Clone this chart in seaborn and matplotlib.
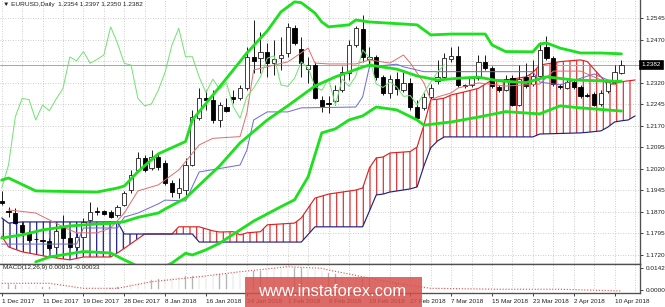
import numpy as np
import matplotlib
matplotlib.use("Agg")
import matplotlib.pyplot as plt
import matplotlib.transforms as mtransforms
from matplotlib.patches import Rectangle
from matplotlib.ticker import MultipleLocator
import seaborn as sns

# ---------------- data ----------------
date_labels = ['1 Dec 2017', '11 Dec 2017', '19 Dec 2017', '28 Dec 2017', '8 Jan 2018',
               '16 Jan 2018', '24 Jan 2018', '1 Feb 2018', '9 Feb 2018', '19 Feb 2018',
               '27 Feb 2018', '7 Mar 2018', '15 Mar 2018', '23 Mar 2018', '2 Apr 2018',
               '10 Apr 2018']
date_label_bars = [0, 6, 12, 18, 24, 30, 36, 42, 48, 54, 60, 66, 72, 78, 84, 90]
price_ticks = [1.2545, 1.2470, 1.2395, 1.2320, 1.2245, 1.2170, 1.2095, 1.2020,
               1.1945, 1.1870, 1.1795, 1.1720]
price_tick_labels = ['1.2545', '1.2470', '', '1.2320', '1.2245', '1.2170', '1.2095',
                     '1.2020', '1.1945', '1.1870', '1.1795', '1.1720']

opens = [1.1908, 1.1872, 1.1866, 1.1825, 1.1797, 1.1776, 1.1771, 1.1770, 1.1748, 1.1818,
         1.1779, 1.1749, 1.1784, 1.1842, 1.1872, 1.1874, 1.1871, 1.1859, 1.1894, 1.1946,
         1.2016, 1.2058, 1.2023, 1.2062, 1.2040, 1.1970, 1.1937, 1.1946, 1.2033, 1.2196,
         1.2265, 1.2260, 1.2190, 1.2236, 1.2270, 1.2265, 1.2300, 1.2410, 1.2405, 1.2428,
         1.2387, 1.2405, 1.2422, 1.2509, 1.2436, 1.2366, 1.2381, 1.2260, 1.2249, 1.2256,
         1.2294, 1.2353, 1.2451, 1.2506, 1.2401, 1.2408, 1.2339, 1.2285, 1.2332, 1.2294,
         1.2320, 1.2236, 1.2230, 1.2270, 1.2326, 1.2339, 1.2401, 1.2413, 1.2310, 1.2312,
         1.2336, 1.2392, 1.2371, 1.2305, 1.2294, 1.2336, 1.2242, 1.2340, 1.2315, 1.2343,
         1.2444, 1.2406, 1.2308, 1.2301, 1.2322, 1.2305, 1.2277, 1.2280, 1.2246, 1.2291,
         1.2322, 1.2354]
highs = [1.1943, 1.1887, 1.1884, 1.1835, 1.1807, 1.1783, 1.1776, 1.1779, 1.1828, 1.1859,
         1.1800, 1.1797, 1.1849, 1.1906, 1.1888, 1.1877, 1.1877, 1.1894, 1.1943, 1.2016,
         1.2080, 1.2068, 1.2085, 1.2075, 1.2051, 1.1981, 1.1988, 1.2058, 1.2225, 1.2300,
         1.2294, 1.2294, 1.2254, 1.2266, 1.2294, 1.2312, 1.2445, 1.2538, 1.2497, 1.2457,
         1.2468, 1.2480, 1.2526, 1.2520, 1.2480, 1.2410, 1.2392, 1.2273, 1.2273, 1.2312,
         1.2378, 1.2468, 1.2517, 1.2555, 1.2444, 1.2416, 1.2346, 1.2346, 1.2358, 1.2358,
         1.2336, 1.2260, 1.2284, 1.2315, 1.2399, 1.2423, 1.2445, 1.2447, 1.2315, 1.2343,
         1.2416, 1.2416, 1.2378, 1.2312, 1.2346, 1.2346, 1.2381, 1.2388, 1.2399, 1.2461,
         1.2482, 1.2413, 1.2315, 1.2329, 1.2329, 1.2312, 1.2284, 1.2287, 1.2294, 1.2329,
         1.2381, 1.2397]
lows = [1.1894, 1.1852, 1.1828, 1.1793, 1.1765, 1.1769, 1.1765, 1.1738, 1.1741, 1.1772,
        1.1744, 1.1738, 1.1783, 1.1838, 1.1859, 1.1859, 1.1849, 1.1853, 1.1891, 1.1936,
        1.2010, 1.2009, 1.2016, 1.2016, 1.1964, 1.1923, 1.1918, 1.1929, 1.2030, 1.2190,
        1.2225, 1.2179, 1.2167, 1.2218, 1.2249, 1.2260, 1.2294, 1.2353, 1.2353, 1.2341,
        1.2346, 1.2364, 1.2410, 1.2451, 1.2341, 1.2318, 1.2263, 1.2218, 1.2214, 1.2242,
        1.2287, 1.2329, 1.2444, 1.2393, 1.2374, 1.2329, 1.2277, 1.2266, 1.2277, 1.2287,
        1.2225, 1.2190, 1.2225, 1.2263, 1.2315, 1.2333, 1.2393, 1.2305, 1.2301, 1.2305,
        1.2329, 1.2364, 1.2301, 1.2287, 1.2291, 1.2239, 1.2239, 1.2301, 1.2308, 1.2336,
        1.2399, 1.2308, 1.2298, 1.2298, 1.2298, 1.2266, 1.2270, 1.2239, 1.2239, 1.2284,
        1.2315, 1.2350]
closes = [1.1901, 1.1871, 1.1831, 1.1800, 1.1772, 1.1774, 1.1769, 1.1744, 1.1804, 1.1779,
          1.1749, 1.1783, 1.1836, 1.1871, 1.1870, 1.1863, 1.1853, 1.1888, 1.1936, 1.1998,
          1.2058, 1.2016, 1.2062, 1.2027, 1.1971, 1.1940, 1.1953, 1.2033, 1.2201, 1.2265,
          1.2261, 1.2190, 1.2242, 1.2222, 1.2263, 1.2300, 1.2409, 1.2396, 1.2428, 1.2387,
          1.2401, 1.2416, 1.2514, 1.2457, 1.2387, 1.2381, 1.2265, 1.2239, 1.2246, 1.2294,
          1.2357, 1.2451, 1.2509, 1.2410, 1.2410, 1.2339, 1.2285, 1.2332, 1.2297, 1.2320,
          1.2236, 1.2196, 1.2271, 1.2301, 1.2340, 1.2405, 1.2413, 1.2312, 1.2307, 1.2335,
          1.2392, 1.2371, 1.2307, 1.2293, 1.2334, 1.2242, 1.2333, 1.2307, 1.2343, 1.2434,
          1.2406, 1.2315, 1.2303, 1.2322, 1.2305, 1.2272, 1.2275, 1.2242, 1.2284, 1.2322,
          1.2357, 1.2382]

bb_upper_bars = [0, 1, 5, 14, 17, 18, 20, 23, 27, 28, 32, 36, 39, 41, 43, 44, 46, 47, 48,
                 51, 52, 54, 61, 63, 66, 71, 72, 74, 78, 79, 80, 82, 85, 88, 91]
bb_upper = [1.1981, 1.1988, 1.1943, 1.1939, 1.1953, 1.1960, 1.2010, 1.2072, 1.2115, 1.2190,
            1.2305, 1.2423, 1.2500, 1.2566, 1.2601, 1.2598, 1.2562, 1.2531, 1.2514, 1.2521,
            1.2538, 1.2531, 1.2521, 1.2486, 1.2489, 1.2489, 1.2451, 1.2428, 1.2427, 1.2454,
            1.2458, 1.2440, 1.2423, 1.2423, 1.2420]
bb_mid_bars = [0, 3, 6, 10, 14, 16, 18, 20, 23, 24, 27, 32, 35, 39, 42, 46, 49, 53, 54, 58,
               61, 64, 67, 70, 73, 77, 80, 84, 91]
bb_mid = [1.1779, 1.1790, 1.1807, 1.1821, 1.1828, 1.1830, 1.1836, 1.1851, 1.1866, 1.1880,
          1.1918, 1.2030, 1.2110, 1.2190, 1.2239, 1.2308, 1.2340, 1.2374, 1.2381, 1.2367,
          1.2343, 1.2329, 1.2335, 1.2339, 1.2326, 1.2320, 1.2340, 1.2329, 1.2324]
bb_lower_bars = [5, 7, 12, 16, 18, 19, 20, 24, 25, 27, 28, 30, 32, 37, 41, 43, 45, 47, 49,
                 51, 53, 55, 58, 61, 62, 66, 70, 74, 79, 82, 85, 91]
bb_lower = [1.1696, 1.1713, 1.1732, 1.1727, 1.1703, 1.1692, 1.1680, 1.1680, 1.1692, 1.1726,
            1.1720, 1.1738, 1.1761, 1.1838, 1.1888, 1.1912, 1.1992, 1.2145, 1.2159, 1.2190,
            1.2204, 1.2235, 1.2225, 1.2190, 1.2172, 1.2183, 1.2200, 1.2219, 1.2211, 1.2239,
            1.2232, 1.2221]

tenkan_bars = [1, 5, 9, 11, 14, 16, 18, 20, 23, 26, 29, 31, 35, 36, 37, 40, 42, 45, 46, 48,
               52, 54, 57, 59, 60, 62, 63, 64, 66, 67, 70, 74, 79, 81, 85, 88, 90, 91]
tenkan = [1.1877, 1.1866, 1.1818, 1.1797, 1.1797, 1.1814, 1.1866, 1.1943, 1.1964, 1.2016,
          1.2103, 1.2126, 1.2132, 1.2214, 1.2364, 1.2381, 1.2392, 1.2440, 1.2388, 1.2385,
          1.2385, 1.2399, 1.2388, 1.2416, 1.2388, 1.2319, 1.2260, 1.2270, 1.2284, 1.2301,
          1.2319, 1.2308, 1.2315, 1.2360, 1.2360, 1.2329, 1.2312, 1.2329]
kijun_bars = [0, 11, 12, 17, 18, 20, 23, 24, 27, 29, 35, 36, 37, 39, 42, 44, 52, 53, 54, 58,
              59, 62, 78, 79, 82, 87, 89, 91]
kijun = [1.1758, 1.1758, 1.1814, 1.1814, 1.1852, 1.1866, 1.1898, 1.1911, 1.1908, 1.2009,
         1.2033, 1.2085, 1.2190, 1.2218, 1.2218, 1.2232, 1.2235, 1.2270, 1.2375, 1.2384,
         1.2375, 1.2358, 1.2358, 1.2322, 1.2312, 1.2350, 1.2329, 1.2324]

cloud_bars = [0, 1, 3, 7, 10, 12, 16, 17, 18, 21, 25, 26, 28, 29, 31, 32, 34, 35, 36, 38,
              39, 43, 44, 46, 48, 52, 53, 54, 55, 56, 57, 60, 61, 62, 63, 64, 65, 66, 68, 70,
              72, 74, 77, 78, 79, 82, 85, 86, 88, 89, 90, 91, 92, 93]
senkou_a = [1.1786, 1.1748, 1.1731, 1.1713, 1.1703, 1.1713, 1.1713, 1.1727, 1.1743, 1.1793,
            1.1793, 1.1818, 1.1818, 1.1818, 1.1804, 1.1800, 1.1801, 1.1790, 1.1797, 1.1801,
            1.1825, 1.1831, 1.1849, 1.1918, 1.1932, 1.1946, 1.1953, 1.2023, 1.2058, 1.2061,
            1.2075, 1.2080, 1.2096, 1.2172, 1.2260, 1.2262, 1.2266, 1.2277, 1.2288, 1.2300,
            1.2329, 1.2329, 1.2340, 1.2355, 1.2381, 1.2393, 1.2399, 1.2393, 1.2340, 1.2312,
            1.2318, 1.2323, 1.2326, 1.2329]
senkou_b = [1.1849, 1.1831, 1.1835, 1.1835, 1.1835, 1.1835, 1.1835, 1.1835, 1.1793, 1.1793,
            1.1793, 1.1793, 1.1793, 1.1765, 1.1765, 1.1765, 1.1765, 1.1765, 1.1765, 1.1765,
            1.1765, 1.1765, 1.1765, 1.1818, 1.1818, 1.1818, 1.1818, 1.1873, 1.1929, 1.1932,
            1.1939, 1.1950, 1.1957, 1.2030, 1.2093, 1.2117, 1.2131, 1.2131, 1.2131, 1.2131,
            1.2131, 1.2131, 1.2131, 1.2131, 1.2141, 1.2143, 1.2145, 1.2147, 1.2152, 1.2165,
            1.2183, 1.2187, 1.2190, 1.2204]

macd_main = [0.0046, 0.0045, 0.0043, 0.0040, 0.0036, 0.0033, 0.0030, 0.0026, 0.0022, 0.0018,
             0.0016, 0.0014, 0.0012, 0.0013, 0.0014, 0.0015, 0.0020, 0.0028, 0.0038, 0.0048,
             0.0056, 0.0064, 0.0072, 0.0078, 0.0084, 0.0088, 0.0092, 0.0096, 0.0099, 0.0102,
             0.0105, 0.0108, 0.0111, 0.0114, 0.0117, 0.0120, 0.0124, 0.0128, 0.0132, 0.0136,
             0.0139, 0.0142, 0.0146, 0.0150, 0.0148, 0.0143, 0.0136, 0.0128, 0.0120, 0.0113,
             0.0106, 0.0099, 0.0092, 0.0086, 0.0080, 0.0072, 0.0064, 0.0057, 0.0050, 0.0044,
             0.0038, 0.0032, 0.0027, 0.0022, 0.0018, 0.0016, 0.0014, 0.0013, 0.0012, 0.0012,
             0.0011, 0.0011, 0.0010, 0.0010, 0.0009, 0.0009, 0.0009, 0.0008, 0.0008, 0.0008,
             0.0008, 0.0007, 0.0007, 0.0006, 0.0006, 0.0005, 0.0005, 0.0004, 0.0003, 0.0003,
             0.0002, 0.0002]
macd_signal_bars = [0, 7, 12, 17, 22, 29, 35, 42, 47, 48, 53, 58, 63, 73, 82, 91]
macd_signal = [0.0046, 0.0046, 0.0014, 0.0014, 0.0056, 0.0088, 0.0120, 0.0152, 0.0142,
               0.0131, 0.0088, 0.0046, 0.0014, 0.0008, 0.0008, -0.0003]
macd_ticks = [0.0142, 0.0]
macd_tick_labels = ['0.0142', '0.0000']

# ---------------- style ----------------
sns.set_style("white")
plt.rcParams['font.family'] = ['Liberation Sans', 'DejaVu Sans']
plt.rcParams['hatch.linewidth'] = 0.75

DPI = 120
fig = plt.figure(figsize=(665 / DPI, 307 / DPI), dpi=DPI)
ax = fig.add_axes([0.0, 1 - 264 / 307, 640 / 665, 264 / 307])
ax2 = fig.add_axes([0.0, 1 - 293 / 307, 640 / 665, 29 / 307], sharex=ax)

bars = np.arange(len(opens))
o = np.array(opens); h = np.array(highs); l = np.array(lows); c = np.array(closes)

grid_kw = dict(color='#bdbdbd', lw=0.5, ls=(0, (1, 2)))

# cloud hatch
cx = np.array(cloud_bars); cA = np.array(senkou_a); cB = np.array(senkou_b)
ax.fill_between(cx, cA, cB, where=cA >= cB, interpolate=True, facecolor='none',
                edgecolor='#dc3838', hatch='|||', linewidth=0, zorder=1)
ax.fill_between(cx, cA, cB, where=cA < cB, interpolate=True, facecolor='none',
                edgecolor='#22228c', hatch='|||', linewidth=0, zorder=1)
sns.lineplot(x=cloud_bars, y=senkou_a, ax=ax, color='#e02020', lw=0.7, zorder=2)
sns.lineplot(x=cloud_bars, y=senkou_b, ax=ax, color='#20207f', lw=0.7, zorder=2)

# bid line
ax.axhline(closes[-1], color='#a8a8a8', lw=0.6, zorder=1.5)

# candles
up = c >= o
ax.vlines(bars, l, h, color='#202020', lw=0.6, zorder=3)
ax.bar(bars[up], (c - o)[up], bottom=o[up], width=0.62, facecolor='white',
       edgecolor='#202020', lw=0.5, zorder=4)
ax.bar(bars[~up], (o - c)[~up], bottom=c[~up], width=0.62, facecolor='black',
       edgecolor='black', lw=0.5, zorder=4)

# ichimoku lines
sns.lineplot(x=tenkan_bars, y=tenkan, ax=ax, color='#e07070', lw=0.6, zorder=4.5)
sns.lineplot(x=kijun_bars, y=kijun, ax=ax, color='#6d6dd2', lw=0.6, zorder=4.5)
sns.lineplot(x=bars[:-26], y=c[26:], ax=ax, color='#74e274', lw=0.6, zorder=4.5)

# bollinger
for bx, by in [(bb_upper_bars, bb_upper), (bb_mid_bars, bb_mid), (bb_lower_bars, bb_lower)]:
    sns.lineplot(x=bx, y=by, ax=ax, color='#1ee01e', lw=1.7, zorder=5)

ax.set_xlim(-0.25, 93.73)
ax.set_ylim(1.16886, 1.26075)
ax.yaxis.tick_right()
ax.set_yticks(price_ticks, labels=price_tick_labels)
ax.tick_params(axis='y', which='both', right=True, length=2, width=0.5, pad=1.5,
               labelsize=3.8, colors='#202020')
ax.tick_params(axis='x', which='both', bottom=False, labelbottom=False)
ax.xaxis.set_major_locator(MultipleLocator(6))
ax.xaxis.set_minor_locator(MultipleLocator(3))
ax.grid(True, which='both', axis='x', **grid_kw)
ax.grid(True, which='major', axis='y', **grid_kw)
ax.set_axisbelow(True)
for s in ['left', 'top']:
    ax.spines[s].set_visible(False)
for s in ['right', 'bottom']:
    ax.spines[s].set_color('#505050'); ax.spines[s].set_linewidth(0.8)
ax.set_xlabel(''); ax.set_ylabel('')

ax.text(0.004, 0.993, '\u25bc EURUSD,Daily  1.2354 1.2397 1.2350 1.2382',
        transform=ax.transAxes, va='top', ha='left', fontsize=3.9, color='#202020')

trans = mtransforms.blended_transform_factory(ax.transAxes, ax.transData)
ax.text(1.003, closes[-1], f'{closes[-1]:.4f}', transform=trans, va='center', ha='left',
        fontsize=3.8, color='white', clip_on=False, zorder=20,
        bbox=dict(boxstyle='square,pad=0.25', fc='black', ec='black'))

# MACD panel
ax2.bar(bars, macd_main, width=0.35, color='#b4b4b4', zorder=2)
ax2.plot(macd_signal_bars, macd_signal, color='#e05555', lw=0.7, ls=(0, (1, 1.5)), zorder=3)
ax2.set_ylim(-0.0016, 0.01695)
ax2.yaxis.tick_right()
ax2.set_yticks(macd_ticks, labels=macd_tick_labels)
ax2.tick_params(axis='y', right=True, length=2, width=0.5, pad=1.5, labelsize=3.8,
                colors='#202020')
ax2.set_xticks(date_label_bars, labels=date_labels, ha='left')
ax2.xaxis.set_minor_locator(MultipleLocator(3))
ax2.tick_params(axis='x', which='major', bottom=True, length=2, width=0.5, pad=1.5,
                labelsize=3.8, colors='#202020')
ax2.tick_params(axis='x', which='minor', bottom=False)
ax2.grid(True, which='both', axis='x', **grid_kw)
ax2.set_axisbelow(True)
ax2.spines['left'].set_visible(False)
for s in ['right', 'bottom', 'top']:
    ax2.spines[s].set_color('#505050'); ax2.spines[s].set_linewidth(0.8)
ax2.text(0.004, 0.95, 'MACD(12,26,9) 0.00019 -0.00033', transform=ax2.transAxes,
         va='top', ha='left', fontsize=3.8, color='#202020')

# watermark
fig.patches.append(Rectangle((245 / 665, 0), (422 - 245) / 665, 30 / 307,
                             transform=fig.transFigure, facecolor='#d6504b', alpha=0.85,
                             edgecolor='none', zorder=5))
fig.text(332 / 665, 1 - 291 / 307, 'www.instaforex.com', color='white', fontsize=10,
         ha='center', va='center', zorder=6)

fig.savefig('out.png', dpi=DPI)
